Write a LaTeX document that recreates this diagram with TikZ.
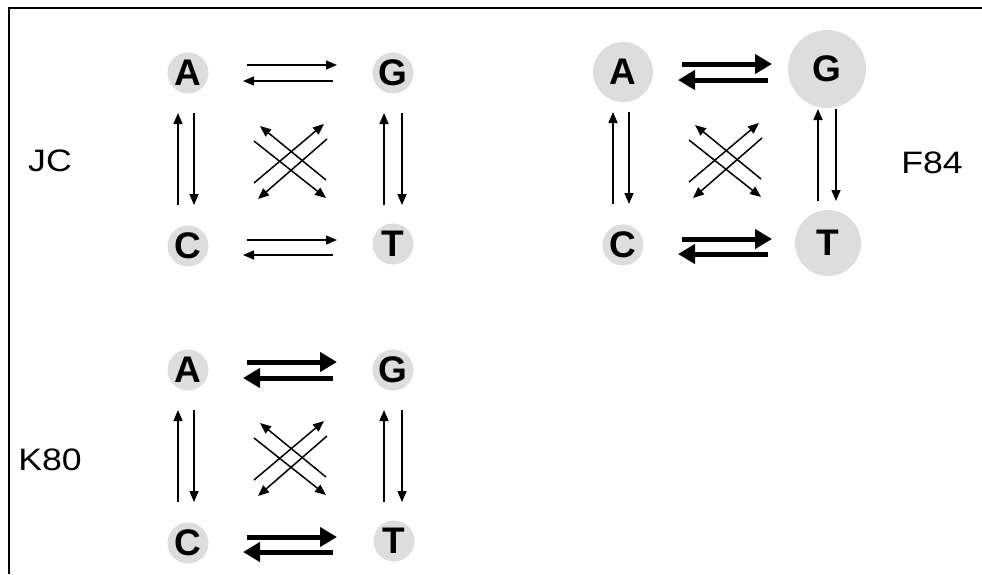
\documentclass[tikz,border=0pt]{standalone}
\usepackage{fontspec}
\setmainfont{Liberation Sans}
\newfontfamily\labelfont[FakeStretch=1.15]{Liberation Sans}
\usetikzlibrary{arrows.meta,calc}
\definecolor{circfill}{RGB}{221,221,221}
\tikzset{
  base/.style={circle,fill=circfill,inner sep=0pt,font=\fontsize{37}{37}\selectfont\bfseries},
  label/.style={font=\labelfont\fontsize{31}{31}\selectfont,inner sep=0pt},
  thinarr/.style={line width=1.5pt,-{Triangle[length=11pt,width=9pt]}},
  thickarr/.style={line width=5pt,-{Triangle[length=17pt,width=19pt]}},
}
\newcommand{\mkpanel}[6]{%
  \draw[#6] ([shift={(59,-8)}]#2.center) -- ([shift={(149,-8)}]#2.center);
  \draw[#6] ([shift={(145,8)}]#2.center) -- ([shift={(55,8)}]#2.center);
  \draw[#6] ([shift={(59,-6)}]#4.center) -- ([shift={(149,-6)}]#4.center);
  \draw[#6] ([shift={(145,9)}]#4.center) -- ([shift={(55,9)}]#4.center);
  \draw[thinarr] ([shift={(-10,132)}]#2.center) -- ([shift={(-10,40)}]#2.center);
  \draw[thinarr] ([shift={(6,40)}]#2.center) -- ([shift={(6,132)}]#2.center);
  \draw[thinarr] ([shift={(-9,132)}]#3.center) -- ([shift={(-9,40)}]#3.center);
  \draw[thinarr] ([shift={(9,40)}]#3.center) -- ([shift={(9,132)}]#3.center);
  \draw[thinarr] ([shift={(66,110)}]#2.center) -- ([shift={(136,51)}]#2.center);
  \draw[thinarr] ([shift={(139,66)}]#2.center) -- ([shift={(70,126)}]#2.center);
  \draw[thinarr] ([shift={(138,107)}]#2.center) -- ([shift={(72,53)}]#2.center);
  \draw[thinarr] ([shift={(66,68)}]#2.center) -- ([shift={(138,125)}]#2.center);
}
\begin{document}
\begin{tikzpicture}[x=1pt,y=-1pt]
\useasboundingbox (0,0) rectangle (982,574);
\draw[line width=2pt] (8.5,574) -- (8.5,7.5) -- (982,7.5);
% JC
\node[base,minimum size=41pt] (jA) at (188,73) {A};
\node[base,minimum size=41pt] (jG) at (393,73) {G};
\node[base,minimum size=41pt] (jC) at (188,246) {C};
\node[base,minimum size=41pt] (jT) at (393,244) {T};
\node[label] (jL) at (50,161) {JC};
\mkpanel{j}{jA}{jG}{jC}{jT}{thinarr}
% F84
\node[base,minimum size=60pt] (fA) at (623,72) {A};
\node[base,minimum size=78pt] (fG) at (827,69) {G};
\node[base,minimum size=41pt] (fC) at (623,245) {C};
\node[base,minimum size=66pt] (fT) at (828,243) {T};
\node[label] (fL) at (932,163) {F84};
\mkpanel{f}{fA}{fG}{fC}{fT}{thickarr}
% K80
\node[base,minimum size=41pt] (kA) at (188,370) {A};
\node[base,minimum size=41pt] (kG) at (393,370) {G};
\node[base,minimum size=41pt] (kC) at (188,543) {C};
\node[base,minimum size=41pt] (kT) at (394,541) {T};
\node[label] (kL) at (50,460) {K80};
\mkpanel{k}{kA}{kG}{kC}{kT}{thickarr}
\end{tikzpicture}
\end{document}
